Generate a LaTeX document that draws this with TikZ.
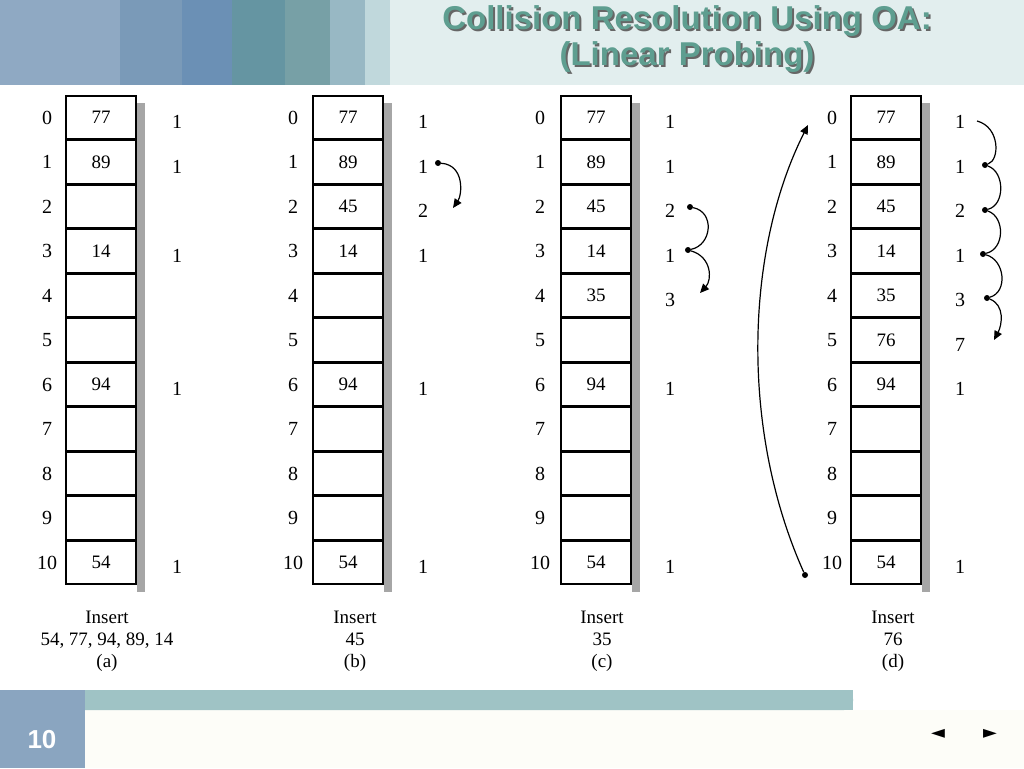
\documentclass[tikz,border=0pt]{standalone}
\usepackage{fontspec}
\setmainfont{Liberation Serif}
\newfontfamily\titlefont{Liberation Sans}
\usetikzlibrary{arrows.meta}
\definecolor{ttl}{HTML}{5E9E90}
\definecolor{bar}{HTML}{9FC3C5}
\definecolor{boxblue}{HTML}{8AA5C0}
\definecolor{bg1}{HTML}{E2EEEE}
\definecolor{s1}{HTML}{8FA9C3}
\definecolor{s2}{HTML}{7A9AB8}
\definecolor{s3}{HTML}{6B90B5}
\definecolor{s4}{HTML}{6595A2}
\definecolor{s5}{HTML}{77A0A6}
\definecolor{s6}{HTML}{98B8C4}
\definecolor{s7}{HTML}{C0D8DC}
\definecolor{foot}{HTML}{FDFDF8}
\tikzset{
 cell/.style={draw=black,line width=1.6pt,minimum width=70pt,minimum height=43.5pt,inner sep=0pt,font=\fontsize{19}{19}\selectfont},
 lab/.style={font=\fontsize{20}{20}\selectfont,inner sep=0pt},
 captext/.style={font=\fontsize{19}{22}\selectfont,align=center,inner sep=0pt},
 probe/.style={line width=1.2pt},
 parr/.style={line width=1.2pt,-{Triangle[length=9pt,width=8pt]}},
 dotc/.style={circle,fill=black,inner sep=0pt,minimum size=6pt}
}
\begin{document}
\begin{tikzpicture}[x=1pt,y=-1pt]
\useasboundingbox (0,0) rectangle (1024,768);
\fill[white] (0,0) rectangle (1024,768);
% banner
\fill[bg1] (0,0) rectangle (1024,85);
\fill[s1] (0,0) rectangle (120,85);
\fill[s2] (120,0) rectangle (182,85);
\fill[s3] (182,0) rectangle (232,85);
\fill[s4] (232,0) rectangle (285,85);
\fill[s5] (285,0) rectangle (330,85);
\fill[s6] (330,0) rectangle (365,85);
\fill[s7] (365,0) rectangle (390,85);
\node[font=\titlefont\bfseries\fontsize{33}{36}\selectfont,text=black!60,align=center] at (689,41) {Collision Resolution Using OA:\\(Linear Probing)};
\node[font=\titlefont\bfseries\fontsize{33}{36}\selectfont,text=ttl,align=center] (title) at (687,39) {Collision Resolution Using OA:\\(Linear Probing)};
% footer
\fill[foot] (0,710) rectangle (1024,768);
\fill[bar,rounded corners=9pt] (25,690) rectangle (853,710);
\fill[bar] (40,690) rectangle (853,710);
\fill[boxblue] (0,690) rectangle (85,768);
\node[font=\titlefont\bfseries\fontsize{26}{26}\selectfont,text=white] (pg) at (42,740) {10};
\node[font=\fontsize{18}{18}\selectfont] (prev) at (938,734) {\fontspec{DejaVu Sans}◄};
\node[font=\fontsize{18}{18}\selectfont] (next) at (990,734) {\fontspec{DejaVu Sans}►};
% tables
\foreach \tb/\bx/\ix/\cx/\capx/\ins/\sub/\vals/\cnts in {
 a/101/47/177/107/{54, 77, 94, 89, 14}/(a)/{77,89,,14,,,94,,,,54}/{1,1,,1,,,1,,,,1},
 b/348/293/423/355/45/(b)/{77,89,45,14,,,94,,,,54}/{1,1,2,1,,,1,,,,1},
 c/596/540/670/602/35/(c)/{77,89,45,14,35,,94,,,,54}/{1,1,2,1,3,,1,,,,1},
 d/886/832/960/893/76/(d)/{77,89,45,14,35,76,94,,,,54}/{1,1,2,1,3,7,1,,,,1}}{
  \fill[gray!70] (\bx+36,103) rectangle (\bx+44,592);
  \foreach \v [count=\i from 0] in \vals {
    \node[cell,fill=white] (\tb-c\i) at (\bx,{117.5+44.5*\i}) {\v};
    \node[lab] (\tb-i\i) at (\ix,{117.5+44.5*\i}) {\i};
  }
  \foreach \v [count=\i from 0] in \cnts {
    \node[lab] (\tb-n\i) at (\cx,{122+44.5*\i}) {\v};
  }
  \node[captext] (\tb-cap) at (\capx,641) {Insert\\\ins\\\sub};
}
% probe arrows
\node[dotc] (b1) at (438,163) {};
\coordinate (b2) at (453,208);
\draw[parr] (b1) .. controls (465,165) and (462,195) .. (b2);
\node[dotc] (c1) at (690,207) {};
\node[dotc] (c2) at (688,250) {};
\coordinate (c3) at (700,293);
\draw[probe] (c1) .. controls (715,212) and (712,245) .. (c2);
\draw[parr] (c2) .. controls (712,257) and (712,280) .. (c3);
\coordinate (d0) at (977,121);
\node[dotc] (d1) at (985,165) {};
\node[dotc] (d2) at (985,210) {};
\node[dotc] (d3) at (983,254) {};
\node[dotc] (d4) at (987,298) {};
\coordinate (d5) at (994,340);
\draw[probe] (d0) .. controls (1000,127) and (1000,160) .. (d1);
\draw[probe] (d1) .. controls (1005,172) and (1005,205) .. (d2);
\draw[probe] (d2) .. controls (1005,217) and (1005,249) .. (d3);
\draw[probe] (d3) .. controls (1005,260) and (1008,292) .. (d4);
\draw[parr] (d4) .. controls (1005,305) and (1002,325) .. (d5);
\node[dotc] (w1) at (805,575) {};
\coordinate (w2) at (808,125);
\draw[parr] (w1) .. controls (740,430) and (745,250) .. (w2);
\end{tikzpicture}
\end{document}
